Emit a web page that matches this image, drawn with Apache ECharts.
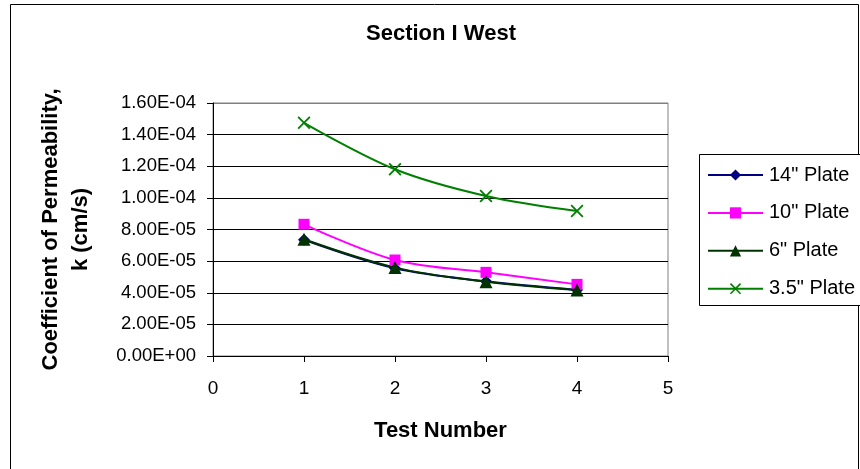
<!DOCTYPE html>
<html>
<head>
<meta charset="utf-8">
<title>Section I West</title>
<script src="https://cdn.jsdelivr.net/npm/echarts@6/dist/echarts.min.js"></script>
<style>
  html, body { margin: 0; padding: 0; background: #fff; }
  #chart { width: 860px; height: 469px; }
</style>
</head>
<body>
<div id="chart"></div>
<script>
// Test numbers (x values) shared by every plate series
const testNumbers = [1, 2, 3, 4];

// Coefficient of permeability k (cm/s) per plate size
const plate14 = [7.35e-5, 5.55e-5, 4.72e-5, 4.18e-5];
const plate10 = [8.33e-5, 6.07e-5, 5.29e-5, 4.53e-5];
const plate6 = [7.38e-5, 5.59e-5, 4.70e-5, 4.17e-5];
const plate35 = [1.475e-4, 1.181e-4, 1.012e-4, 9.17e-5];

const seriesNames = ['14" Plate', '10" Plate', '6" Plate', '3.5" Plate'];

// Axis ranges
const xMin = 0, xMax = 5, xStep = 1;
const yMin = 0, yMax = 1.6e-4, yStep = 2e-5;

const FONT = '"Liberation Sans", Arial, sans-serif';

// Excel-style scientific label, e.g. 1.60E-04
function sci(v) {
  const parts = Number(v).toExponential(2).split('e');
  const sign = parts[1][0];
  const exp = parts[1].slice(1).padStart(2, '0');
  return parts[0] + 'E' + sign + exp;
}

function pairs(ys) {
  return testNumbers.map((x, i) => [x, ys[i]]);
}

const crossPath = 'path://M0,1L1,0L5,4L9,0L10,1L6,5L10,9L9,10L5,6L1,10L0,9L4,5Z';

const styles = [
  { color: '#000080', symbol: 'diamond', size: 12 },
  { color: '#FF00FF', symbol: 'rect', size: 11 },
  { color: '#003300', symbol: 'triangle', size: 13 },
  { color: '#008000', symbol: crossPath, size: 13 }
];
const dataSets = [plate14, plate10, plate6, plate35];

const chart = echarts.init(document.getElementById('chart'), null, { renderer: 'canvas' });

const option = {
  animation: false,
  backgroundColor: '#fff',
  textStyle: { fontFamily: FONT },
  graphic: [
    {
      type: 'rect',
      shape: { x: 10.5, y: 4.5, width: 848, height: 480 },
      style: { fill: 'none', stroke: '#000', lineWidth: 1 },
      z: 1,
      silent: true
    },
    {
      // legend frame, running off the right edge of the canvas
      type: 'rect',
      shape: { x: 699.5, y: 154.5, width: 200, height: 151 },
      style: { fill: '#fff', stroke: '#000', lineWidth: 1 },
      z: 15,
      silent: true
    },
    {
      type: 'text',
      x: 441,
      y: 34,
      style: {
        text: 'Section I West',
        font: 'bold 22px ' + FONT,
        fill: '#000',
        textAlign: 'center',
        textVerticalAlign: 'middle'
      }
    }
  ],
  grid: {
    left: 213,
    right: 192,
    top: 103,
    bottom: 113,
    containLabel: false,
    show: true,
    borderColor: '#808080',
    borderWidth: 1,
    backgroundColor: '#fff'
  },
  legend: {
    orient: 'vertical',
    left: 699,
    top: 154,
    padding: [11, 10, 8, 8],
    itemWidth: 55,
    itemHeight: 14,
    itemGap: 17.9,
    borderWidth: 0,
    z: 20,
    textStyle: { fontSize: 20, color: '#000', fontFamily: FONT, padding: [0, 0, 0, 1] },
    data: seriesNames
  },
  xAxis: {
    type: 'value',
    min: xMin,
    max: xMax,
    interval: xStep,
    name: 'Test Number',
    nameLocation: 'middle',
    nameGap: 64,
    nameTextStyle: { fontSize: 22, fontWeight: 'bold', color: '#000', fontFamily: FONT },
    axisLine: { show: true, lineStyle: { color: '#000', width: 1 } },
    axisTick: { show: true, inside: false, length: 6, lineStyle: { color: '#000' } },
    axisLabel: { fontSize: 19, color: '#000', margin: 23, fontFamily: FONT },
    splitLine: { show: false }
  },
  yAxis: {
    type: 'value',
    min: yMin,
    max: yMax,
    interval: yStep,
    name: 'Coefficient of Permeability,\nk (cm/s)',
    nameLocation: 'middle',
    nameRotate: 90,
    nameGap: 117,
    nameTextStyle: {
      fontSize: 22, fontWeight: 'bold', color: '#000', fontFamily: FONT,
      lineHeight: 30, align: 'center'
    },
    axisLine: { show: true, lineStyle: { color: '#000', width: 1 } },
    axisTick: { show: true, inside: false, length: 6, lineStyle: { color: '#000' } },
    axisLabel: { fontSize: 18.5, color: '#000', margin: 17, fontFamily: FONT, formatter: sci },
    splitLine: {
      show: true,
      lineStyle: {
        color: ['#000', '#000', '#000', '#000', '#000', '#000', '#000', '#000', '#808080'],
        width: 1
      }
    }
  },
  series: dataSets.map((ys, i) => ({
    name: seriesNames[i],
    type: 'line',
    data: pairs(ys),
    smooth: 0.35,
    symbol: styles[i].symbol,
    symbolSize: styles[i].size,
    showAllSymbol: true,
    lineStyle: { color: styles[i].color, width: 2 },
    itemStyle: { color: styles[i].color, borderWidth: 0 },
    emphasis: { disabled: true },
    z: 2 + i
  }))
};

chart.setOption(option);
</script>
</body>
</html>
